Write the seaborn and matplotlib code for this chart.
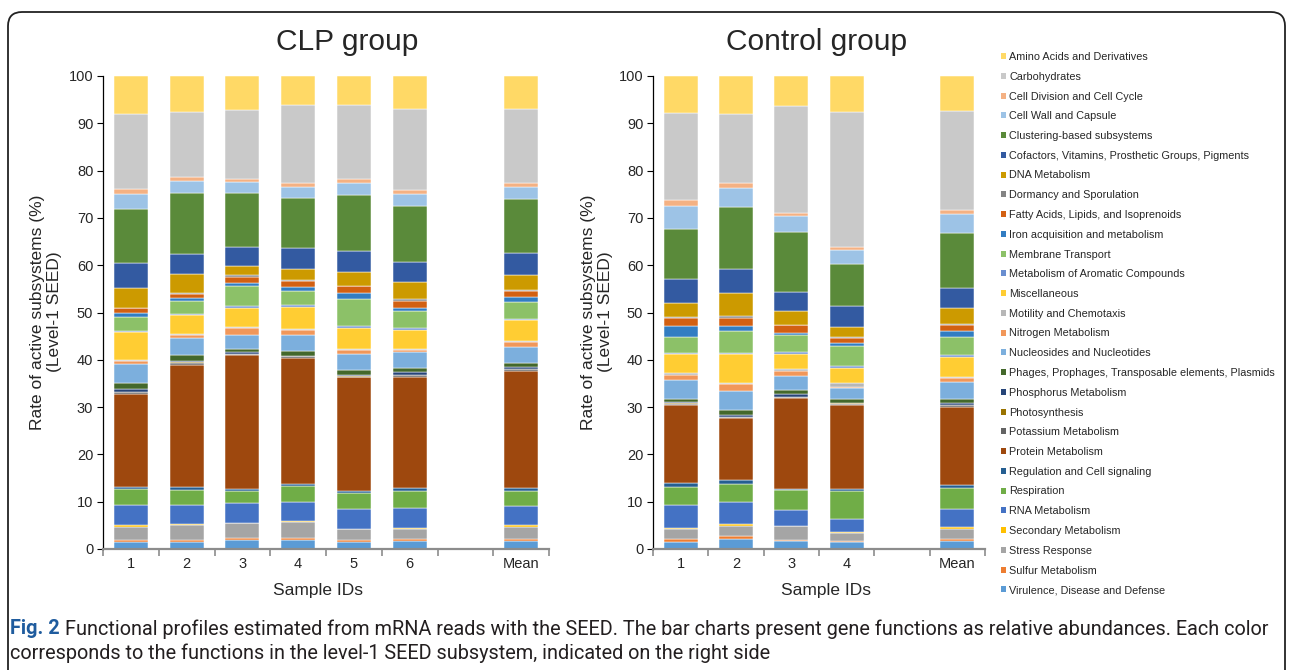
import pandas as pd
import matplotlib
matplotlib.use('Agg')
import matplotlib.pyplot as plt
from matplotlib.patches import FancyBboxPatch, Patch
import seaborn as sns

# SEED level-1 subsystems (legend order, top of stack first)
categories = [
    'Amino Acids and Derivatives', 'Carbohydrates', 'Cell Division and Cell Cycle',
    'Cell Wall and Capsule', 'Clustering-based subsystems',
    'Cofactors, Vitamins, Prosthetic Groups, Pigments', 'DNA Metabolism',
    'Dormancy and Sporulation', 'Fatty Acids, Lipids, and Isoprenoids',
    'Iron acquisition and metabolism', 'Membrane Transport',
    'Metabolism of Aromatic Compounds', 'Miscellaneous', 'Motility and Chemotaxis',
    'Nitrogen Metabolism', 'Nucleosides and Nucleotides',
    'Phages, Prophages, Transposable elements, Plasmids', 'Phosphorus Metabolism',
    'Photosynthesis', 'Potassium Metabolism', 'Protein Metabolism',
    'Regulation and Cell signaling', 'Respiration', 'RNA Metabolism',
    'Secondary Metabolism', 'Stress Response', 'Sulfur Metabolism',
    'Virulence, Disease and Defense',
]
colors = [
    '#FFD966', '#C9C9C9', '#F4B183', '#9DC3E6', '#5A8A3A', '#335AA1', '#CC9A00',
    '#848484', '#D26012', '#327DC2', '#8CC168', '#698ED0', '#FFCD33', '#B7B7B7',
    '#F1975A', '#7CAFDD', '#43682B', '#264478', '#997300', '#636363', '#9E480E',
    '#255E91', '#70AD47', '#4472C4', '#FFC000', '#A5A5A5', '#ED7D31', '#5B9BD5',
]

# rates (%), same order as categories
clp_1 = [8.0, 15.9, 1.0, 3.1, 11.6, 5.1, 4.2, 0.2, 1.0, 0.7, 3.0, 0.2, 5.9, 0.2,
         0.8, 3.9, 1.4, 0.5, 0.1, 0.3, 19.8, 0.4, 3.3, 4.3, 0.4, 2.7, 0.5, 1.4]
clp_2 = [7.7, 13.7, 0.8, 2.5, 12.9, 4.2, 3.9, 0.2, 1.0, 0.6, 2.7, 0.2, 4.0, 0.2,
         0.7, 3.6, 1.3, 0.2, 0.1, 0.4, 25.9, 0.6, 3.1, 4.1, 0.1, 3.2, 0.5, 1.4]
clp_3 = [7.2, 14.5, 0.7, 2.3, 11.5, 4.0, 1.9, 0.4, 1.2, 0.8, 4.2, 0.3, 4.0, 0.3,
         1.5, 3.0, 0.5, 0.4, 0.1, 0.1, 28.5, 0.4, 2.4, 4.3, 0.0, 3.2, 0.5, 1.8]
clp_4 = [6.1, 16.6, 0.8, 2.2, 10.7, 4.3, 2.5, 0.1, 1.4, 0.7, 3.0, 0.5, 4.5, 0.3,
         1.0, 3.5, 0.9, 0.1, 0.1, 0.3, 26.7, 0.3, 3.5, 4.0, 0.1, 3.5, 0.4, 1.9]
clp_5 = [6.1, 15.8, 0.7, 2.6, 11.9, 4.5, 2.9, 0.1, 1.4, 1.3, 5.8, 0.4, 4.3, 0.3,
         0.9, 3.3, 1.0, 0.4, 0.1, 0.1, 24.2, 0.3, 3.4, 4.2, 0.1, 2.3, 0.4, 1.5]
clp_6 = [6.9, 17.3, 0.8, 2.5, 11.8, 4.4, 3.5, 0.4, 1.5, 0.7, 3.6, 0.3, 4.0, 0.3,
         0.5, 3.3, 0.9, 0.5, 0.1, 0.3, 23.6, 0.6, 3.7, 4.2, 0.1, 2.2, 0.4, 1.7]
clp_mean = [6.9, 15.8, 0.7, 2.6, 11.5, 4.6, 3.1, 0.3, 1.2, 1.0, 3.6, 0.3, 4.4, 0.3,
            1.0, 3.3, 1.0, 0.3, 0.1, 0.3, 24.9, 0.5, 3.3, 4.0, 0.3, 2.6, 0.4, 1.7]

ctrl_1 = [7.8, 18.5, 1.2, 4.8, 10.7, 5.0, 2.9, 0.3, 1.7, 2.2, 3.4, 0.3, 4.0, 0.4,
          1.0, 4.1, 0.7, 0.2, 0.1, 0.3, 16.4, 0.8, 4.0, 4.8, 0.1, 2.2, 0.6, 1.5]
ctrl_2 = [8.0, 14.6, 1.1, 4.0, 13.2, 5.0, 4.8, 0.4, 1.8, 1.1, 4.5, 0.3, 6.0, 0.3,
          1.4, 4.1, 1.0, 0.4, 0.1, 0.3, 13.0, 0.8, 3.8, 4.7, 0.4, 2.1, 0.6, 2.2]
ctrl_3 = [6.4, 22.6, 0.6, 3.4, 12.7, 4.0, 2.9, 0.1, 1.6, 0.5, 3.6, 0.4, 3.2, 0.5,
          1.0, 2.9, 0.9, 0.6, 0.1, 0.2, 19.1, 0.4, 4.2, 3.3, 0.0, 3.0, 0.3, 1.6]
ctrl_4 = [7.6, 28.6, 0.6, 3.0, 9.0, 4.3, 2.2, 0.1, 1.2, 0.5, 4.4, 0.3, 3.3, 0.8,
          0.1, 2.4, 0.8, 0.1, 0.1, 0.4, 17.6, 0.6, 5.9, 2.6, 0.3, 1.7, 0.3, 1.4]
ctrl_mean = [7.3, 21.1, 0.8, 4.0, 11.5, 4.4, 3.3, 0.1, 1.4, 1.3, 3.7, 0.4, 4.2, 0.3,
             0.9, 3.5, 0.9, 0.3, 0.1, 0.4, 16.5, 0.7, 4.3, 3.9, 0.3, 2.2, 0.4, 1.7]

clp_labels = ['1', '2', '3', '4', '5', '6', '', 'Mean']
ctrl_labels = ['1', '2', '3', '4', '', 'Mean']
clp_bars = [clp_1, clp_2, clp_3, clp_4, clp_5, clp_6, None, clp_mean]
ctrl_bars = [ctrl_1, ctrl_2, ctrl_3, ctrl_4, None, ctrl_mean]


def to_long(bars):
    rows = []
    for pos, vals in enumerate(bars, start=1):
        if vals is None:
            continue
        total = sum(vals)
        for cat, v in zip(categories, vals):
            rows.append({'pos': pos, 'category': cat, 'value': v * 100 / total})
    return pd.DataFrame(rows)


sns.set_style('white')
plt.rcParams['font.family'] = ['Liberation Sans', 'DejaVu Sans']

W, H = 1290, 670
fig = plt.figure(figsize=(W / 100, H / 100), dpi=100)
palette = dict(zip(categories, colors))


def draw(ax, bars, labels):
    df = to_long(bars)
    sns.histplot(data=df, x='pos', weights='value', hue='category',
                 hue_order=categories, palette=palette, multiple='stack',
                 discrete=True, shrink=0.61, alpha=1, edgecolor='white',
                 linewidth=0.35, legend=False, ax=ax)
    n = len(labels)
    ax.set_xlim(0.5, n + 0.5)
    ax.set_ylim(0, 100)
    ax.set_xlabel('')
    ax.set_ylabel('')
    ax.set_yticks(range(0, 101, 10))
    ax.tick_params(axis='y', labelsize=10.5, length=4, width=0.8,
                   direction='out', left=True, color='black', pad=3)
    ticks = [i + 1 for i, l in enumerate(labels) if l]
    ax.set_xticks(ticks, [l for l in labels if l])
    ax.set_xticks([i + 0.5 for i in range(n + 1)], minor=True)
    ax.tick_params(axis='x', which='major', length=0, labelsize=10.5, pad=6)
    ax.tick_params(axis='x', which='minor', length=5, width=1.2,
                   color='#8C8C8C', bottom=True, direction='out')
    for s in ('top', 'right'):
        ax.spines[s].set_visible(False)
    ax.spines['left'].set_color('black')
    ax.spines['left'].set_linewidth(0.9)
    ax.spines['bottom'].set_color('#8C8C8C')
    ax.spines['bottom'].set_linewidth(1.6)
    ax.grid(False)


ax1 = fig.add_axes([103 / W, 1 - 549 / H, 446 / W, 473 / H])
draw(ax1, clp_bars, clp_labels)
ax2 = fig.add_axes([653 / W, 1 - 549 / H, 332 / W, 473 / H])
draw(ax2, ctrl_bars, ctrl_labels)

# titles and axis labels
fig.text(347 / W, 1 - 42 / H, 'CLP group', ha='center', va='center', fontsize=21.5)
fig.text(817 / W, 1 - 42 / H, 'Control group', ha='center', va='center', fontsize=21.5)
ylab = 'Rate of active subsystems (%)\n(Level-1 SEED)'
fig.text(46 / W, 1 - 312 / H, ylab, rotation=90, ha='center', va='center',
         fontsize=12.5, linespacing=1.1)
fig.text(597 / W, 1 - 312 / H, ylab, rotation=90, ha='center', va='center',
         fontsize=12.5, linespacing=1.1)
fig.text(318 / W, 1 - 591 / H, 'Sample IDs', ha='center', va='center', fontsize=12.5)
fig.text(826 / W, 1 - 591 / H, 'Sample IDs', ha='center', va='center', fontsize=12.5)

# legend
handles = [Patch(facecolor=c, edgecolor='none') for c in colors]
fig.legend(handles, categories, loc='upper left',
           bbox_to_anchor=(1001 / W, 1 - 52 / H), frameon=False, fontsize=7.8,
           handlelength=0.5, handleheight=0.5, handletextpad=0.25,
           labelspacing=0.9, borderpad=0, borderaxespad=0)

# rounded frame around the figure panel
frame = FancyBboxPatch((8, -30), 1277, 658 + 30, boxstyle='round,pad=0,rounding_size=14',
                       transform=None, facecolor='none', edgecolor='#222222',
                       linewidth=1.3, clip_on=False)
fig.patches.append(frame)

# caption
cap_font = ['Liberation Sans Narrow', 'Roboto', 'DejaVu Sans']
t = fig.text(10 / W, 1 - 629 / H, 'Fig. 2', fontsize=14.3, fontweight='bold',
             color='#1F5C9E', va='center', family=cap_font)
fig.canvas.draw()
bb = t.get_window_extent(fig.canvas.get_renderer())
fig.text((bb.x1 + 5) / W, 1 - 629 / H,
         'Functional profiles estimated from mRNA reads with the SEED. The bar charts '
         'present gene functions as relative abundances. Each color',
         fontsize=14.3, color='#231F20', va='center', family=cap_font)
fig.text(10 / W, 1 - 653 / H,
         'corresponds to the functions in the level-1 SEED subsystem, indicated on the right side',
         fontsize=14.3, color='#231F20', va='center', family=cap_font)

fig.savefig('out.png', dpi=100)
